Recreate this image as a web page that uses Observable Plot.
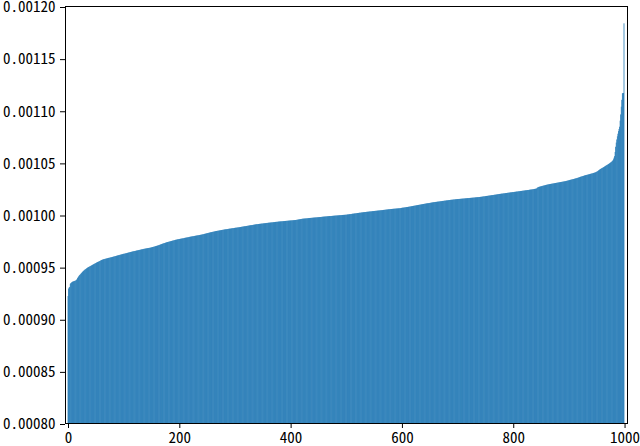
<!DOCTYPE html>
<html>
<head>
<meta charset="utf-8">
<script src="https://cdn.jsdelivr.net/npm/d3@7"></script>
<script src="https://cdn.jsdelivr.net/npm/@observablehq/plot@0.6"></script>
<style>
  html, body { margin: 0; padding: 0; background: #ffffff; }
</style>
</head>
<body>
<div id="chart"></div>
<script>
// Bar heights, sorted ascending, one per index 0..999.
// Stored in units of 1e-7 (e.g. 9218 -> 0.0009218).
const valuesE7 = [
9218,9290,9300,9305,9335,9342,9346,9352,9355,9357,9359,9361,9363,9365,9368,9372,9380,9390,9398,9406,
9413,9420,9426,9432,9438,9444,9450,9455,9460,9465,9470,9474,9478,9482,9486,9490,9493,9496,9499,9502,
9505,9508,9511,9514,9517,9520,9523,9526,9529,9532,9535,9538,9541,9544,9546,9548,9551,9554,9557,9560,
9563,9565,9567,9569,9571,9572,9574,9575,9577,9578,9579,9581,9582,9584,9585,9586,9588,9589,9590,9592,
9593,9595,9596,9598,9599,9601,9602,9604,9605,9607,9608,9610,9611,9613,9614,9616,9617,9619,9620,9622,
9623,9624,9625,9627,9628,9629,9631,9632,9634,9635,9637,9638,9640,9641,9642,9644,9645,9646,9648,9649,
9650,9651,9652,9654,9655,9656,9657,9659,9660,9661,9662,9664,9665,9666,9667,9668,9670,9671,9672,9673,
9674,9675,9676,9677,9678,9679,9680,9681,9682,9683,9685,9686,9688,9689,9691,9692,9694,9696,9697,9699,
9700,9702,9704,9706,9708,9710,9712,9714,9716,9718,9720,9722,9724,9726,9727,9729,9731,9733,9734,9736,
9737,9739,9740,9742,9743,9745,9746,9748,9749,9751,9752,9754,9755,9757,9758,9759,9760,9762,9763,9764,
9765,9766,9767,9768,9769,9770,9771,9772,9773,9775,9776,9777,9778,9779,9780,9781,9782,9784,9785,9786,
9787,9788,9789,9790,9791,9792,9793,9794,9795,9796,9797,9798,9799,9800,9801,9802,9803,9804,9805,9806,
9807,9808,9810,9811,9812,9814,9815,9816,9818,9819,9821,9822,9823,9825,9826,9827,9829,9830,9831,9832,
9834,9835,9836,9837,9839,9840,9841,9842,9843,9844,9845,9846,9847,9848,9849,9850,9851,9852,9853,9854,
9855,9856,9857,9858,9858,9859,9860,9861,9862,9863,9864,9864,9865,9866,9867,9868,9869,9869,9870,9871,
9872,9873,9873,9874,9875,9876,9877,9877,9878,9879,9880,9881,9882,9883,9884,9885,9886,9887,9887,9888,
9889,9890,9891,9892,9893,9894,9895,9896,9897,9898,9898,9899,9900,9901,9902,9903,9904,9905,9906,9907,
9907,9908,9909,9909,9910,9911,9911,9912,9913,9913,9914,9915,9915,9916,9917,9917,9918,9919,9919,9920,
9921,9921,9922,9922,9923,9924,9924,9925,9925,9926,9927,9927,9928,9929,9929,9930,9930,9931,9932,9932,
9933,9933,9934,9934,9935,9935,9936,9936,9937,9937,9938,9938,9939,9939,9940,9940,9941,9941,9942,9942,
9943,9943,9944,9944,9945,9945,9946,9946,9947,9947,9948,9949,9950,9951,9952,9953,9954,9955,9956,9957,
9958,9959,9960,9960,9961,9961,9962,9962,9963,9963,9964,9964,9965,9966,9966,9967,9967,9968,9968,9969,
9969,9970,9970,9971,9971,9972,9972,9973,9973,9974,9974,9975,9975,9976,9976,9977,9977,9978,9979,9979,
9980,9980,9981,9981,9982,9982,9983,9983,9984,9984,9985,9985,9985,9986,9986,9987,9987,9988,9988,9989,
9989,9990,9990,9991,9991,9991,9992,9992,9993,9993,9994,9994,9995,9995,9996,9996,9996,9997,9997,9998,
9998,9999,10000,10001,10001,10002,10003,10004,10004,10005,10006,10007,10008,10008,10009,10010,10011,10011,10012,10013,
10014,10014,10015,10016,10017,10017,10018,10019,10020,10020,10021,10022,10022,10023,10024,10024,10025,10026,10026,10027,
10027,10028,10029,10029,10030,10030,10031,10032,10032,10033,10033,10034,10035,10035,10036,10036,10037,10038,10038,10039,
10039,10040,10041,10041,10042,10042,10043,10044,10044,10045,10046,10046,10047,10048,10048,10049,10050,10050,10051,10052,
10052,10053,10053,10054,10054,10055,10055,10056,10056,10057,10057,10058,10058,10059,10059,10060,10060,10061,10062,10063,
10064,10065,10066,10066,10067,10068,10069,10070,10071,10071,10072,10073,10074,10075,10076,10077,10078,10079,10080,10081,
10082,10083,10084,10085,10086,10087,10088,10089,10090,10091,10092,10093,10094,10095,10096,10097,10098,10099,10100,10101,
10102,10103,10104,10105,10106,10107,10108,10108,10109,10110,10111,10112,10113,10114,10115,10116,10117,10118,10119,10119,
10120,10121,10121,10122,10123,10124,10124,10125,10126,10127,10127,10128,10129,10130,10130,10131,10132,10133,10133,10134,
10135,10136,10136,10137,10138,10139,10139,10140,10141,10141,10142,10142,10143,10144,10144,10145,10146,10146,10147,10147,
10148,10148,10149,10149,10150,10150,10151,10151,10152,10152,10153,10153,10154,10154,10155,10155,10156,10156,10157,10157,
10158,10158,10159,10159,10160,10160,10161,10161,10162,10162,10163,10163,10164,10165,10165,10166,10166,10167,10167,10168,
10168,10169,10170,10170,10171,10172,10173,10174,10174,10175,10176,10177,10178,10178,10179,10180,10181,10182,10182,10183,
10184,10185,10186,10186,10187,10188,10189,10190,10190,10191,10192,10193,10194,10195,10196,10197,10197,10198,10199,10200,
10200,10201,10202,10203,10203,10204,10205,10206,10206,10207,10208,10209,10209,10210,10211,10212,10212,10213,10214,10215,
10215,10216,10217,10217,10218,10219,10220,10220,10221,10222,10223,10223,10224,10225,10226,10226,10227,10228,10229,10229,
10230,10231,10232,10232,10233,10234,10235,10235,10236,10237,10238,10239,10239,10240,10241,10242,10243,10244,10245,10246,
10247,10248,10250,10256,10260,10263,10265,10266,10268,10269,10271,10272,10274,10275,10277,10278,10279,10281,10282,10284,
10285,10286,10288,10289,10290,10291,10292,10293,10294,10295,10296,10297,10298,10299,10300,10301,10302,10303,10304,10305,
10306,10307,10308,10309,10310,10311,10312,10313,10314,10315,10316,10317,10318,10319,10320,10321,10323,10324,10326,10327,
10329,10330,10332,10333,10334,10336,10337,10339,10340,10341,10343,10344,10346,10347,10349,10351,10352,10354,10356,10358,
10360,10362,10364,10365,10367,10369,10370,10372,10374,10376,10377,10379,10380,10381,10383,10384,10386,10387,10389,10390,
10392,10393,10395,10396,10398,10400,10401,10403,10405,10408,10411,10414,10418,10422,10426,10430,10434,10437,10441,10444,
10447,10450,10453,10456,10460,10463,10467,10470,10474,10477,10480,10484,10487,10491,10495,10499,10503,10508,10514,10520,
10530,10545,10560,10600,10650,10690,10720,10750,10775,10800,10820,10842,10900,10960,11034,11100,11163,11165,11166,11834
];

const xTicks = [0, 200, 400, 600, 800, 1000];
const yTicks = [0.00080, 0.00085, 0.00090, 0.00095, 0.00100, 0.00105, 0.00110, 0.00115, 0.00120];
const yDomain = [0.00080, 0.00120];
const barColor = "#1f77b4";

const data = valuesE7.map((v, i) => ({ index: i, value: v * 1e-7 }));

const chart = Plot.plot({
  width: 640,
  height: 446,
  marginLeft: 65,
  marginRight: 13,
  marginTop: 6,
  marginBottom: 23,
  style: {
    fontFamily: '"Noto Sans Mono CJK SC", "DejaVu Sans Mono", monospace',
    fontSize: "15px",
    background: "#ffffff",
    color: "#000000",
    overflow: "visible"
  },
  x: { type: "linear", domain: [-5.4, 1004.4] },
  y: { domain: yDomain },
  marks: [
    Plot.rectY(data, {
      x1: d => d.index - 0.7,
      x2: d => d.index + 0.7,
      y1: 0,
      y2: "value",
      fill: barColor,
      clip: true
    }),
    Plot.frame({ stroke: "#000000", strokeWidth: 1 }),
    Plot.axisX({ ticks: xTicks, tickFormat: d3.format("d"), tickSize: 5, tickPadding: 4, label: null, fontSize: 15 }),
    Plot.axisY({ ticks: yTicks, tickFormat: d3.format(".5f"), tickSize: 5, tickPadding: 5, label: null, fontSize: 15, dy: 1 })
  ]
});

document.getElementById("chart").appendChild(chart);
</script>
</body>
</html>
